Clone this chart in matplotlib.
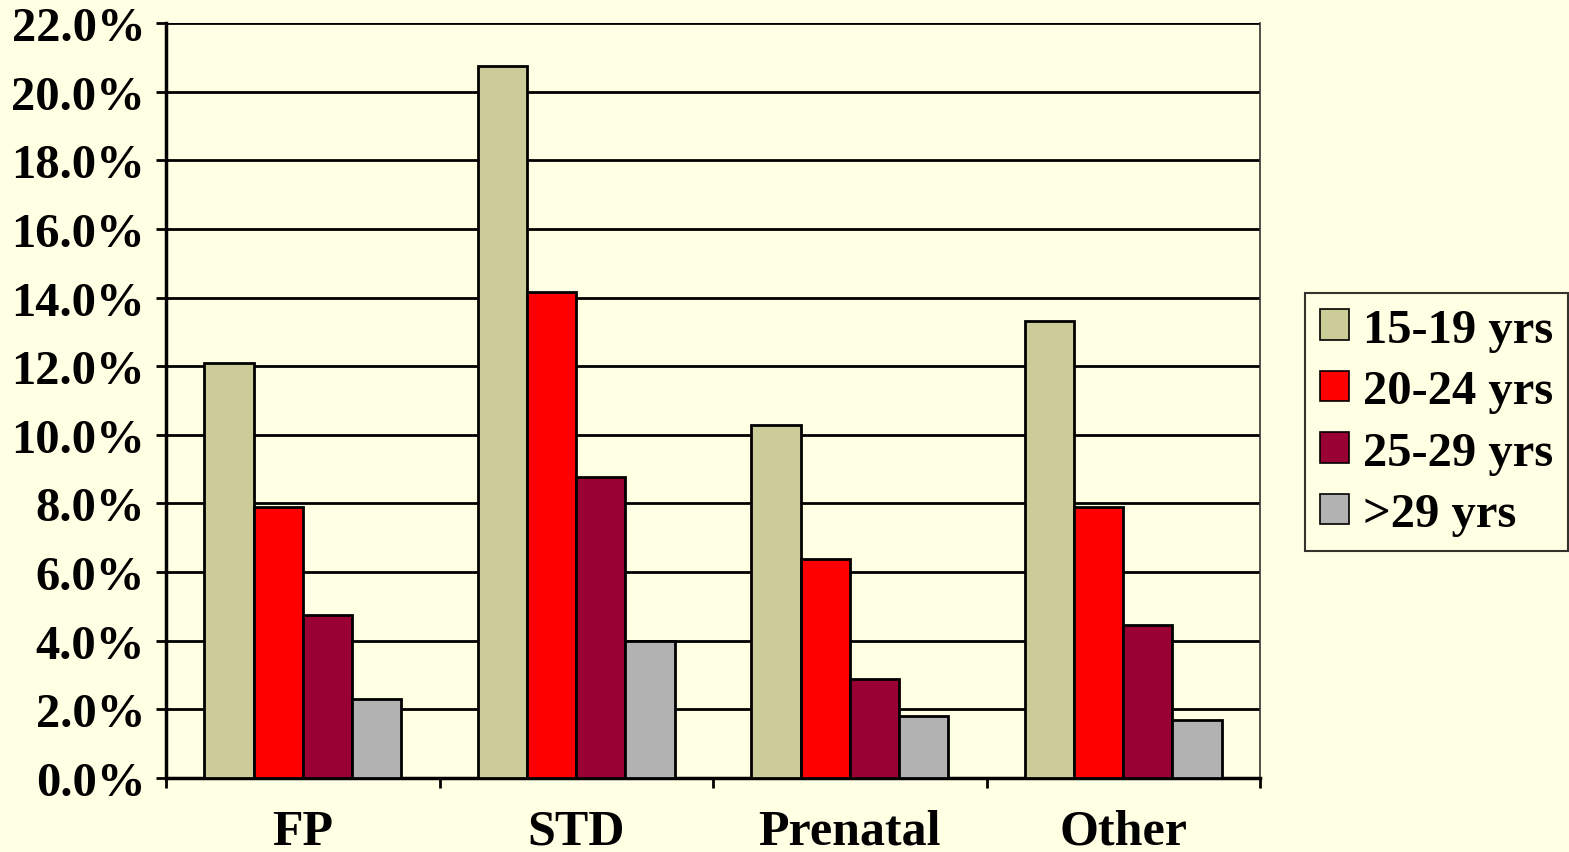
import matplotlib
matplotlib.use("Agg")
import matplotlib.pyplot as plt
import numpy as np
from matplotlib.ticker import FuncFormatter, FixedLocator

categories = ["FP", "STD", "Prenatal", "Other"]
series_names = ["15-19 yrs", "20-24 yrs", "25-29 yrs", ">29 yrs"]
v_15_19 = [12.1, 20.76, 10.29, 13.32]
v_20_24 = [7.9, 14.17, 6.38, 7.9]
v_25_29 = [4.75, 8.78, 2.89, 4.46]
v_over29 = [2.3, 3.99, 1.81, 1.69]
colors = ["#CCCC99", "#FF0000", "#990033", "#B2B2B2"]
yticks = [0, 2, 4, 6, 8, 10, 12, 14, 16, 18, 20, 22]

series = [v_15_19, v_20_24, v_25_29, v_over29]

bg = "#FFFFE3"
plt.rcParams['font.family'] = ['Liberation Serif', 'DejaVu Serif']
plt.rcParams['font.weight'] = 'bold'

fig = plt.figure(figsize=(15.69, 8.53), dpi=100, facecolor=bg)
ax = fig.add_axes([166/1569, 1-779/853, (1260-166)/1569, (779-24)/853])
ax.set_facecolor(bg)

x = np.arange(len(categories))
w = 0.18
for i, (vals, name, c) in enumerate(zip(series, series_names, colors)):
    offs = (i - 1.5) * w
    ax.bar(x + offs, vals, width=w, color=c, edgecolor="black", linewidth=2,
           label=name, zorder=3)

ax.set_xlim(-0.5, len(categories) - 0.5)
ax.set_ylim(0, 22)
ax.set_yticks(yticks)
ax.yaxis.set_major_formatter(FuncFormatter(lambda v, p: f"{v:.1f}%"))
ax.yaxis.grid(True, color="black", linewidth=2, zorder=0)
ax.set_axisbelow(True)

ax.set_xticks(x)
ax.set_xticklabels(categories, fontsize=36, fontweight='bold')
ax.tick_params(axis='x', which='major', length=0, pad=22)
ax.xaxis.set_minor_locator(FixedLocator(np.arange(-0.5, len(categories), 1.0)))
ax.tick_params(axis='x', which='minor', length=7, width=2, direction='out')
ax.tick_params(axis='y', length=7, width=2, direction='out', labelsize=35, pad=8)
for lbl in ax.get_yticklabels():
    lbl.set_fontweight('bold')

ax.spines['left'].set_linewidth(2.5)
ax.spines['bottom'].set_linewidth(2.5)
ax.spines['top'].set_visible(False)
ax.spines['right'].set_linewidth(1.2)
ax.spines['right'].set_color("#333333")

leg = fig.legend(loc='upper left', bbox_to_anchor=(1305/1569, 1-294/853),
                 prop={'family': 'Liberation Serif', 'weight': 'bold', 'size': 35},
                 frameon=True, fancybox=False, edgecolor='black', facecolor=bg,
                 handlelength=0.6, handleheight=0.6, handletextpad=0.3,
                 borderpad=0.3, labelspacing=0.36, borderaxespad=0)
leg.get_frame().set_linewidth(1.5)
for h in leg.legend_handles:
    h.set_linewidth(1.2)

fig.savefig("out.png", dpi=100, facecolor=bg)
